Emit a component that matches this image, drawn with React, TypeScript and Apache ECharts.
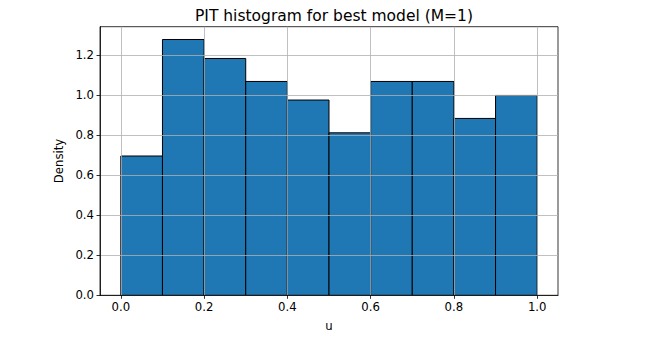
import React, { useEffect, useRef } from "react";
import * as echarts from "echarts";

const binEdges = [0, 0.1, 0.2, 0.3, 0.4, 0.5, 0.6, 0.7, 0.8, 0.9, 1.0];
const densities = [0.697, 1.28, 1.185, 1.07, 0.977, 0.813, 1.07, 1.07, 0.885, 1.0];
const xTicks = [0, 0.2, 0.4, 0.6, 0.8, 1.0];
const yTicks = [0, 0.2, 0.4, 0.6, 0.8, 1.0, 1.2];

const FONT = "DejaVu Sans";

export default function App() {
  const ref = useRef<HTMLDivElement>(null);
  useEffect(() => {
    if (!ref.current) return;
    const chart = echarts.init(ref.current, null, { renderer: "svg" });
    const data = densities.map((d, i) => [binEdges[i], binEdges[i + 1], d]);
    chart.setOption({
      animation: false,
      title: {
        text: "PIT histogram for best model (M=1)",
        top: 3,
        left: 329,
        textAlign: "center",
        textStyle: { fontFamily: FONT, fontSize: 15.5, fontWeight: "normal", color: "#000" },
      },
      grid: {
        left: 100,
        top: 26.7,
        width: 458,
        height: 268.6,
        show: true,
        borderColor: "#000",
        borderWidth: 0.8,
        backgroundColor: "#fff",
      },
      xAxis: {
        type: "value",
        min: -0.05,
        max: 1.05,
        z: 5,
        name: "u",
        nameLocation: "middle",
        nameGap: 25,
        nameTextStyle: { fontFamily: FONT, fontSize: 11.7, color: "#000" },
        axisLine: { show: true, onZero: false, lineStyle: { color: "#000", width: 0.8 } },
        axisTick: { show: true, length: 3.5, lineStyle: { color: "#000", width: 0.8 }, customValues: xTicks },
        axisLabel: {
          fontFamily: FONT,
          fontSize: 11.7,
          color: "#000",
          margin: 6,
          customValues: xTicks,
          formatter: (v: number) => v.toFixed(1),
        },
        splitLine: { show: true, lineStyle: { color: "#b0b0b0", width: 0.8 } },
      },
      yAxis: {
        type: "value",
        min: 0,
        max: 1.344,
        z: 5,
        name: "Density",
        nameLocation: "middle",
        nameGap: 33,
        nameTextStyle: { fontFamily: FONT, fontSize: 11.7, color: "#000" },
        axisLine: { show: true, onZero: false, lineStyle: { color: "#000", width: 0.8 } },
        axisTick: { show: true, length: 3.5, lineStyle: { color: "#000", width: 0.8 }, customValues: yTicks },
        axisLabel: {
          fontFamily: FONT,
          fontSize: 11.7,
          color: "#000",
          margin: 6,
          customValues: yTicks,
          formatter: (v: number) => v.toFixed(1),
        },
        splitLine: { show: true, lineStyle: { color: "#b0b0b0", width: 0.8 } },
      },
      series: [
        {
          type: "custom",
          z: 2,
          data,
          renderItem: (params: any, api: any) => {
            const x0 = api.value(0);
            const x1 = api.value(1);
            const h = api.value(2);
            const p0 = api.coord([x0, h]);
            const p1 = api.coord([x1, 0]);
            return {
              type: "rect",
              shape: { x: p0[0], y: p0[1], width: p1[0] - p0[0], height: p1[1] - p0[1] },
              style: { fill: "#1f77b4", stroke: "#000", lineWidth: 1 },
            };
          },
        },
      ],
    });
    return () => chart.dispose();
  }, []);
  return <div ref={ref} style={{ width: 646, height: 341, position: "absolute", left: 0, top: 0 }} />;
}
